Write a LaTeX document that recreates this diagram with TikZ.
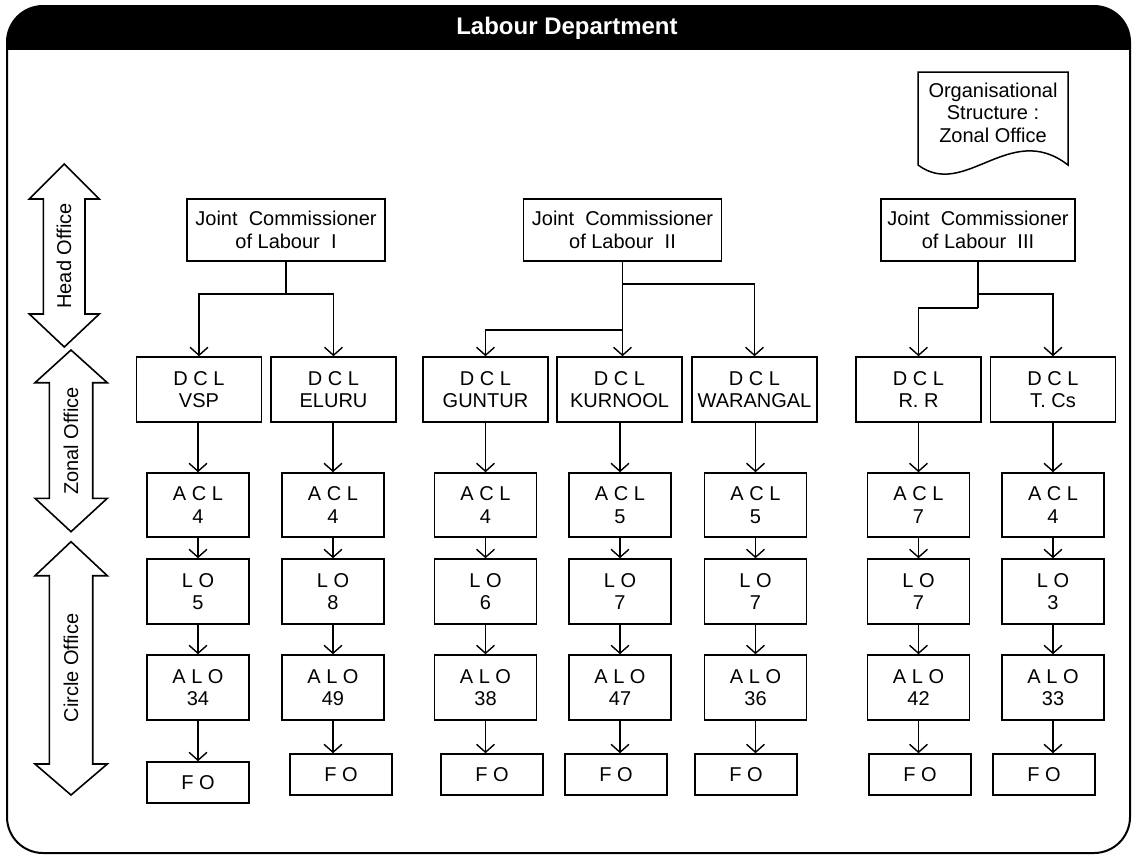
\documentclass[tikz,border=0pt]{standalone}
\usepackage{fontspec}
\setmainfont{Liberation Sans}
\usetikzlibrary{arrows.meta}
\begin{document}
\begin{tikzpicture}[x=1pt,y=-1pt,
  txt/.style={font=\fontsize{20}{22.5}\selectfont},
  box/.style={draw, line width=1.6pt, align=center, inner sep=0pt, txt},
  jcbox/.style={box, minimum width=196pt, minimum height=62pt},
  dbox/.style={box, minimum width=125pt, minimum height=65pt},
  abox/.style={box, minimum width=102pt, minimum height=64pt},
  lbox/.style={box, minimum width=102pt, minimum height=65pt},
  fbox/.style={box, minimum width=102pt, minimum height=41pt},
  link/.style={line width=1.4pt},
  arr/.style={link, -{Straight Barb[length=8pt,width=18pt]}},
  band/.style={draw, line width=1.6pt, fill=white, line join=miter}]
\useasboundingbox (0,0) rectangle (1133,855);

% outer frame with black title bar
\begin{scope}
  \clip[rounded corners=36pt] (7,6) rectangle (1130,853);
  \fill[black] (7,6) rectangle (1130,50);
\end{scope}
\draw[line width=2pt, rounded corners=36pt] (7,6) rectangle (1130,853);
\node[text=white, font=\bfseries\fontsize{24}{26}\selectfont] (title) at (567,28) {Labour Department};

% document tag
\draw[line width=1.5pt] (918,72) -- (1068,72) -- (1068,165)
  .. controls (1010,120) and (965,200) .. (918,165) -- cycle;
\node[txt, align=center] (tag) at (993,112.5) {Organisational\\Structure :\\Zonal Office};

% level indicators
\draw[band] (64.3,164) -- (99.3,199) -- (85,199) -- (85,314) -- (99.3,314) -- (64.3,347)
  -- (29.3,314) -- (43.3,314) -- (43.3,199) -- (29.3,199) -- cycle;
\node[txt, rotate=90] (lhead) at (64,256) {Head Office};
\draw[band] (71,350) -- (107.3,382.7) -- (92.7,382.7) -- (92.7,498.3) -- (107.3,498.3) -- (71,531.7)
  -- (35,498.3) -- (49.3,498.3) -- (49.3,382.7) -- (35,382.7) -- cycle;
\node[txt, rotate=90] (lzone) at (71,441) {Zonal Office};
\draw[band] (71,541.7) -- (107.3,575.7) -- (92.7,575.7) -- (92.7,764) -- (107.3,764) -- (71,795)
  -- (35,764) -- (49.3,764) -- (49.3,575.7) -- (35,575.7) -- cycle;
\node[txt, rotate=90] (lcircle) at (71,668) {Circle Office};

% joint commissioners
\node[jcbox, minimum width=198pt] (jc1) at (286,230) {Joint\ \ Commissioner\\of Labour\ \ I};
\node[jcbox, minimum width=198pt] (jc2) at (622.5,230) {Joint\ \ Commissioner\\of Labour\ \ II};
\node[jcbox, minimum width=194pt] (jc3) at (978,230) {Joint\ \ Commissioner\\of Labour\ \ III};

% district columns: name / column x / DCL x / DCL label / ACL / LO / ALO / FO x / FO y
\foreach \n/\x/\dx/\dl/\ac/\lo/\al/\fx/\fy in {
   vsp/198/199/VSP/4/5/34/198/782.5,
   eluru/333/333.5/ELURU/4/8/49/341/774.5,
   guntur/485.5/485.5/GUNTUR/4/6/38/492/774.5,
   kurnool/620/619.5/KURNOOL/5/7/47/616/774.5,
   warangal/755.5/754.5/WARANGAL/5/7/36/746/774.5,
   rr/918.5/918.5/R. R/7/7/42/920/774.5,
   tcs/1053/1053/T. Cs/4/3/33/1044/774.5}{
  \node[dbox] (d\n) at (\dx,389.5) {D C L\\\dl};
  \node[abox] (a\n) at (\x,505) {A C L\\\ac};
  \node[lbox] (l\n) at (\x,591.5) {L O\\\lo};
  \node[lbox] (al\n) at (\x,687.5) {A L O\\\al};
  \node[fbox] (f\n) at (\fx,\fy) {F O};
  \draw[arr] (a\n.north |- d\n.south) -- (a\n.north);
  \draw[arr] (a\n.south) -- (l\n.north);
  \draw[arr] (l\n.south) -- (al\n.north);
  \draw[arr] (al\n.south) -- (al\n.south |- f\n.north);
}

% head office to zonal offices
\draw[arr] (jc1.south) -- ++(0,32) -| (dvsp.north);
\draw[arr] (jc1.south) -- ++(0,32) -| (deluru.north);

\draw[arr] (jc2.south) -- (jc2.south |- dkurnool.north);
\draw[arr] (jc2.south) ++(0,22) -| (dwarangal.north);
\draw[arr] (jc2.south) ++(0,68) -| (dguntur.north);

\draw[link] (jc3.south) -- ++(0,46);
\draw[arr] (jc3.south) ++(0,32) -| (dtcs.north);
\draw[arr] (jc3.south) ++(0,46) -| (drr.north);
\end{tikzpicture}
\end{document}
